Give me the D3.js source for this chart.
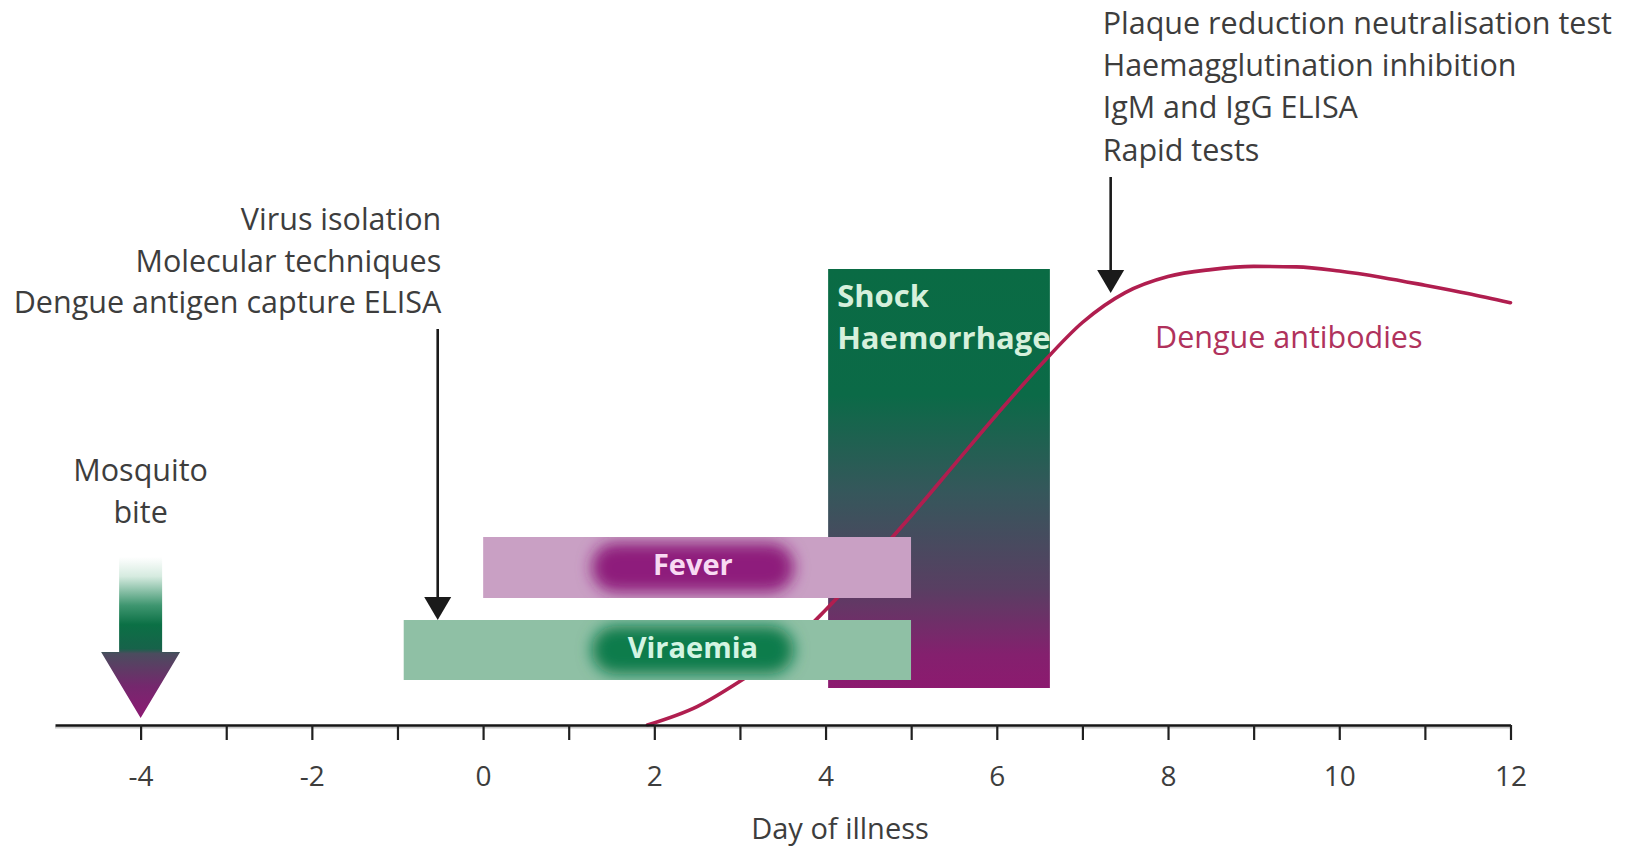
<!DOCTYPE html>
<html>
<head>
<meta charset="utf-8">
<script src="https://cdn.jsdelivr.net/npm/d3@7"></script>
<style>
  html, body { margin: 0; padding: 0; background: #fff; }
  svg { display: block; font-family: "Open Sans", sans-serif; }
</style>
</head>
<body>
<svg id="chart" width="1631" height="849"></svg>
<script>
// ---------- DATA ----------
const axisDomain = [-5, 12];
const tickValues = [-4, -3, -2, -1, 0, 1, 2, 3, 4, 5, 6, 7, 8, 9, 10, 11, 12];
const tickLabels = ["-4", "", "-2", "", "0", "", "2", "", "4", "", "6", "", "8", "", "10", "", "12"];
const axisTitle = "Day of illness";

// horizontal phases (day ranges)
const phaseNames  = ["Fever", "Viraemia"];
const phaseStart  = [0, -0.93];
const phaseEnd    = [5, 5];
const phasePeakStart = [1.2, 1.2];
const phasePeakEnd   = [3.7, 3.7];

const shockLabel = ["Shock", "Haemorrhage"];
const shockRange = [4.03, 6.62];

// antibody curve (day, relative level 0–100)
const antibodyDays   = [1.92, 2.5, 3.0, 3.5, 4.0, 4.5, 5.0, 5.5, 6.0, 6.5, 7.0, 7.5, 8.0, 8.5, 9.0, 9.5, 10.0, 10.5, 11.0, 11.5, 12.0];
const antibodyLevels = [0, 4, 9.5, 16, 25, 35, 45.5, 56.5, 67.5, 78, 87.5, 94, 97.5, 99, 99.7, 99.6, 98.7, 97.3, 95.6, 93.8, 91.8];
const antibodyLabel = "Dengue antibodies";

// diagnostic test markers
const earlyTestsDay = -0.53;
const earlyTests = ["Virus isolation", "Molecular techniques", "Dengue antigen capture ELISA"];
const lateTestsDay = 7.33;
const lateTests = ["Plaque reduction neutralisation test", "Haemagglutination inhibition", "IgM and IgG ELISA", "Rapid tests"];

const biteDay = -4;
const biteLabel = ["Mosquito", "bite"];

// ---------- LAYOUT ----------
const axisY = 725;
const svg = d3.select("#chart");
const defs = svg.append("defs");

const x = d3.scaleLinear().domain(axisDomain).range([55, 1510.5]);
const y = d3.scaleLinear().domain([0, 100]).range([axisY, 265]);

const textColor = "#3d3d3d";
const fontSize = 30.5;

// gradients
const gShock = defs.append("linearGradient").attr("id", "gShock")
  .attr("x1", 0).attr("y1", 0).attr("x2", 0).attr("y2", 1);
[[0, "#0a6b44"], [0.3, "#0b6a47"], [0.53, "#35575b"], [0.76, "#583f62"], [0.92, "#84206e"], [1, "#8c1a6f"]]
  .forEach(([o, c]) => gShock.append("stop").attr("offset", o).attr("stop-color", c));

const biteTop = 557, biteHeadTop = 652, biteTip = 718;
const gBite = defs.append("linearGradient").attr("id", "gBite")
  .attr("gradientUnits", "userSpaceOnUse")
  .attr("x1", 0).attr("y1", biteTop).attr("x2", 0).attr("y2", biteTip);
[[0, "#ffffff"], [0.12, "#d6ebe0"], [0.3, "#3f9670"], [0.42, "#0b7045"], [0.57, "#17624a"], [0.6, "#4b4c5e"], [0.8, "#74286d"], [1, "#8d1a73"]]
  .forEach(([o, c]) => gBite.append("stop").attr("offset", o).attr("stop-color", c));

const blur = defs.append("filter").attr("id", "blur")
  .attr("x", "-25%").attr("y", "-60%").attr("width", "150%").attr("height", "220%");
blur.append("feGaussianBlur").attr("stdDeviation", 7.5);

// ---------- SHOCK BOX ----------
const shockTop = 269, shockBottom = 688;
svg.append("rect")
  .attr("x", x(shockRange[0])).attr("y", shockTop)
  .attr("width", x(shockRange[1]) - x(shockRange[0]))
  .attr("height", shockBottom - shockTop)
  .attr("fill", "url(#gShock)");

// ---------- ANTIBODY CURVE ----------
const pts = antibodyDays.map((d, i) => [d, antibodyLevels[i]]);
const line = d3.line().x(d => x(d[0])).y(d => y(d[1])).curve(d3.curveMonotoneX);
svg.append("path").attr("d", line(pts))
  .attr("fill", "none").attr("stroke", "#b01e4f").attr("stroke-width", 3.6)
  .attr("stroke-linecap", "round");

// ---------- PHASE BARS ----------
const barTop = [537, 620], barBottom = [598, 680];
const barLight = ["#c9a0c4", "#8fc0a5"];
const barDark  = ["#8e1e7c", "#0b7c4b"];
const barText  = ["#f8daf2", "#d3f5e3"];
phaseNames.forEach((name, i) => {
  const cid = "clip" + i;
  defs.append("clipPath").attr("id", cid).append("rect")
    .attr("x", x(phaseStart[i])).attr("y", barTop[i])
    .attr("width", x(phaseEnd[i]) - x(phaseStart[i])).attr("height", barBottom[i] - barTop[i]);
  const g = svg.append("g").attr("clip-path", `url(#${cid})`);
  g.append("rect")
    .attr("x", x(phaseStart[i])).attr("y", barTop[i])
    .attr("width", x(phaseEnd[i]) - x(phaseStart[i])).attr("height", barBottom[i] - barTop[i])
    .attr("fill", barLight[i]);
  g.append("rect")
    .attr("x", x(phasePeakStart[i]) + 6).attr("y", barTop[i] + 6)
    .attr("width", x(phasePeakEnd[i]) - x(phasePeakStart[i]) - 12)
    .attr("height", barBottom[i] - barTop[i] - 12)
    .attr("rx", 24).attr("fill", barDark[i]).attr("filter", "url(#blur)");
  svg.append("text")
    .attr("x", (x(phasePeakStart[i]) + x(phasePeakEnd[i])) / 2)
    .attr("y", (barTop[i] + barBottom[i]) / 2 + 7.5)
    .attr("text-anchor", "middle").attr("font-weight", 700).attr("font-size", 29)
    .attr("fill", barText[i]).text(name);
});

// shock labels
shockLabel.forEach((t, i) => {
  svg.append("text").attr("x", x(shockRange[0]) + 9).attr("y", 307 + i * 41.5)
    .attr("font-weight", 700).attr("font-size", 31).attr("fill", "#d6f0dc").text(t);
});

// antibody label
svg.append("text").attr("x", 1155).attr("y", 348).attr("font-size", fontSize)
  .attr("fill", "#b0325c").text(antibodyLabel);

// ---------- AXIS ----------
const axis = d3.axisBottom(x).tickValues(tickValues).tickSize(15).tickSizeOuter(0)
  .tickFormat((d, i) => tickLabels[i]);
svg.append("line").attr("x1", x(axisDomain[0])).attr("x2", x(axisDomain[1]))
  .attr("y1", axisY + 2.5).attr("y2", axisY + 2.5).attr("stroke", "#c8c8c8").attr("stroke-width", 2);
const ax = svg.append("g").attr("transform", `translate(0,${axisY})`).call(axis);
ax.select(".domain").attr("stroke", "#151515").attr("stroke-width", 2.6);
ax.selectAll(".tick line").attr("stroke", "#202020").attr("stroke-width", 2.2);
ax.selectAll(".tick text").attr("font-family", "Open Sans, sans-serif").attr("font-size", 28)
  .attr("fill", textColor).attr("y", 61).attr("dy", 0);

svg.append("text").attr("x", 840).attr("y", 839).attr("text-anchor", "middle")
  .attr("font-size", 29).attr("fill", textColor).text(axisTitle);

// ---------- ARROWS ----------
function arrow(xp, y0, tip) {
  svg.append("line").attr("x1", xp).attr("x2", xp).attr("y1", y0).attr("y2", tip - 18)
    .attr("stroke", "#1a1a1a").attr("stroke-width", 2.6);
  svg.append("path")
    .attr("d", `M${xp - 13.5},${tip - 23} L${xp + 13.5},${tip - 23} L${xp},${tip} Z`)
    .attr("fill", "#1a1a1a");
}
arrow(x(earlyTestsDay), 329, 620);
arrow(x(lateTestsDay), 177, 293);

// early tests text
earlyTests.forEach((t, i) => {
  svg.append("text").attr("x", x(earlyTestsDay) + 3.5).attr("y", 230 + i * 41.5)
    .attr("text-anchor", "end").attr("font-size", fontSize).attr("fill", textColor).text(t);
});
// late tests text
lateTests.forEach((t, i) => {
  svg.append("text").attr("x", x(lateTestsDay) - 8).attr("y", 34 + i * 42.2)
    .attr("font-size", fontSize).attr("fill", textColor).text(t);
});

// ---------- MOSQUITO BITE ----------
const bx = x(biteDay);
svg.append("path")
  .attr("d", `M${bx - 21.5},${biteTop} L${bx + 21.5},${biteTop} L${bx + 21.5},${biteHeadTop} L${bx + 39.5},${biteHeadTop} L${bx},${biteTip} L${bx - 39.5},${biteHeadTop} L${bx - 21.5},${biteHeadTop} Z`)
  .attr("fill", "url(#gBite)");
biteLabel.forEach((t, i) => {
  svg.append("text").attr("x", bx).attr("y", 481 + i * 41.5).attr("text-anchor", "middle")
    .attr("font-size", fontSize).attr("fill", textColor).text(t);
});
</script>
</body>
</html>
